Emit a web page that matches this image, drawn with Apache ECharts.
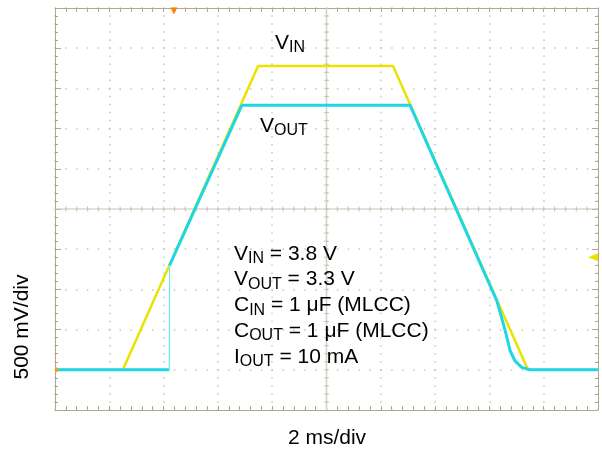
<!DOCTYPE html>
<html>
<head>
<meta charset="utf-8">
<script src="https://cdn.jsdelivr.net/npm/echarts@6/dist/echarts.min.js"></script>
<style>html,body{margin:0;padding:0;background:#fff;}#c{width:602px;height:453px;}</style>
</head>
<body>
<div id="c"></div>
<script>
// ---- data (time in ms, voltage in V) ----
const vinTime   = [0, 2.5, 7.48, 12.45, 17.42, 20];
const vinVolts  = [0, 0,   3.78, 3.78,  0,     0];
const voutTime  = [0, 4.21, 4.22, 6.88, 13.08, 16.27, 16.45, 16.61, 16.76, 16.94, 17.19, 17.5, 20];
const voutVolts = [0, 0,    1.30, 3.29, 3.29,  0.86,  0.65,  0.45,  0.24,  0.11,  0.03,  0,    0];
const voutJumpIndex = 1; // the fast, thin edge runs from this point to the next
const xRange = [0, 20];      // 2 ms/div, 10 div
const yRange = [-0.5, 4.5];  // 500 mV/div, 10 div
const triggerTime = 4.38;
const triggerLevel = 1.4;
const groundLevel = 0;
const xTitle = '2 ms/div';
const yTitle = '500 mV/div';
const notes = [
  ['V', 'IN', ' = 3.8 V'],
  ['V', 'OUT', ' = 3.3 V'],
  ['C', 'IN', ' = 1 μF (MLCC)'],
  ['C', 'OUT', ' = 1 μF (MLCC)'],
  ['I', 'OUT', ' = 10 mA']
];

const FONT = '"Liberation Sans", Arial, Helvetica, sans-serif';
const border = '#b3a88f';
const gridDot = '#c4c4c4';
const yellow = '#ece200';
const cyan = '#1fd6e6';

const rich = {
  m: {fontSize: 21, fontFamily: FONT, color: '#000', lineHeight: 25.75},
  s: {fontSize: 16, fontFamily: FONT, color: '#000', lineHeight: 14, verticalAlign: 'bottom'}
};
const noteText = notes.map(n => `{m|${n[0]}}{s|${n[1]}}{m|${n[2]}}`).join('\n');

const voutPts = voutTime.map((t, i) => [t, voutVolts[i]]);

const chart = echarts.init(document.getElementById('c'));

function axisCommon(pos, isX) {
  return {
    type: 'value', position: pos,
    min: isX ? xRange[0] : yRange[0], max: isX ? xRange[1] : yRange[1],
    interval: isX ? 2 : 0.5,
    axisLine: {show: true, onZero: false, lineStyle: {color: border, width: 1}},
    axisTick: {show: true, inside: true, length: isX ? 4 : 6, lineStyle: {color: border}},
    minorTick: {show: true, splitNumber: 5, length: isX ? 4 : 3, lineStyle: {color: border}},
    axisLabel: {show: false},
    splitLine: {show: false}
  };
}
const xMain = axisCommon('bottom', true);
xMain.splitLine = {show: true, lineStyle: {color: gridDot, width: 1.5, type: [1.5, 6.54], dashOffset: 0.75}};
const yMain = axisCommon('left', false);
yMain.splitLine = {show: true, lineStyle: {color: gridDot, width: 1.5, type: [1.5, 9.37], dashOffset: 0.75}};

const option = {
  animation: false,
  backgroundColor: '#fff',
  grid: {left: 55, top: 8, width: 543, height: 402, containLabel: false},
  xAxis: [xMain, axisCommon('top', true)],
  yAxis: [yMain, axisCommon('right', false)],
  series: [
    {
      type: 'custom', silent: true, xAxisIndex: 0, yAxisIndex: 0, z: 1,
      data: [[(xRange[0] + xRange[1]) / 2, (yRange[0] + yRange[1]) / 2]],
      renderItem: function (params, api) {
        const cx = api.value(0), cy = api.value(1);
        const children = [];
        const a = api.coord([xRange[0], cy]), b = api.coord([xRange[1], cy]);
        const c = api.coord([cx, yRange[0]]), d = api.coord([cx, yRange[1]]);
        children.push({type: 'line', shape: {x1: a[0], y1: a[1], x2: b[0], y2: b[1]}, style: {stroke: '#c9c3b6', lineWidth: 1.2}});
        children.push({type: 'line', shape: {x1: c[0], y1: c[1], x2: d[0], y2: d[1]}, style: {stroke: '#d6cfc0', lineWidth: 1.5}});
        for (let i = 1; i < 50; i++) {
          const p = api.coord([xRange[0] + i * (xRange[1] - xRange[0]) / 50, cy]);
          children.push({type: 'line', shape: {x1: p[0], y1: p[1] - 2.5, x2: p[0], y2: p[1] + 2.5}, style: {stroke: '#c9c3b6', lineWidth: 1}});
          const q = api.coord([cx, yRange[0] + i * (yRange[1] - yRange[0]) / 50]);
          children.push({type: 'line', shape: {x1: q[0] - 2.5, y1: q[1], x2: q[0] + 2.5, y2: q[1]}, style: {stroke: '#c9c3b6', lineWidth: 1}});
        }
        return {type: 'group', children: children};
      }
    },
    {
      name: 'VIN', type: 'line', showSymbol: false, z: 3,
      data: vinTime.map((t, i) => [t, vinVolts[i]]),
      lineStyle: {color: yellow, width: 2.5}, itemStyle: {color: yellow},
      markPoint: {
        silent: true, label: {show: false},
        data: [
          {coord: [triggerTime, yRange[1]], symbol: 'triangle', symbolRotate: 180, symbolSize: [7, 7], symbolOffset: [0, 3], itemStyle: {color: '#ff7f00'}},
          {coord: [xRange[1], triggerLevel], symbol: 'triangle', symbolRotate: 90, symbolSize: [8, 10], symbolOffset: [-5, 0], itemStyle: {color: yellow}},
          {coord: [xRange[0], groundLevel], symbol: 'triangle', symbolRotate: -90, symbolSize: [8, 4], symbolOffset: [2, 0], itemStyle: {color: '#ff9a20'}}
        ]
      }
    },
    {
      name: 'VOUT', type: 'line', showSymbol: false, z: 4,
      data: voutPts.slice(0, voutJumpIndex + 1),
      lineStyle: {color: cyan, width: 3}, itemStyle: {color: cyan}
    },
    {
      name: 'VOUT edge', type: 'line', showSymbol: false, z: 4,
      data: voutPts.slice(voutJumpIndex, voutJumpIndex + 2),
      lineStyle: {color: '#6fe6f0', width: 1.2}, itemStyle: {color: cyan}
    },
    {
      name: 'VOUT rest', type: 'line', showSymbol: false, z: 4,
      data: voutPts.slice(voutJumpIndex + 1),
      lineStyle: {color: cyan, width: 3}, itemStyle: {color: cyan}
    }
  ],
  graphic: [
    {type: 'text', x: 22, y: 327, rotation: Math.PI / 2, silent: true,
     style: {text: yTitle, font: '21px ' + FONT, fill: '#000', align: 'center', verticalAlign: 'middle'}},
    {type: 'text', x: 327, y: 438, silent: true,
     style: {text: xTitle, font: '21px ' + FONT, fill: '#000', align: 'center', verticalAlign: 'middle'}},
    {type: 'text', x: 275, y: 30, silent: true, z: 10,
     style: {text: '{m|V}{s|IN}', rich: rich, verticalAlign: 'top', align: 'left'}},
    {type: 'text', x: 260, y: 113, silent: true, z: 10,
     style: {text: '{m|V}{s|OUT}', rich: rich, verticalAlign: 'top', align: 'left'}},
    {type: 'text', x: 234, y: 241, silent: true, z: 10,
     style: {text: noteText, rich: rich, verticalAlign: 'top', align: 'left'}}
  ]
};
chart.setOption(option);
</script>
</body>
</html>
